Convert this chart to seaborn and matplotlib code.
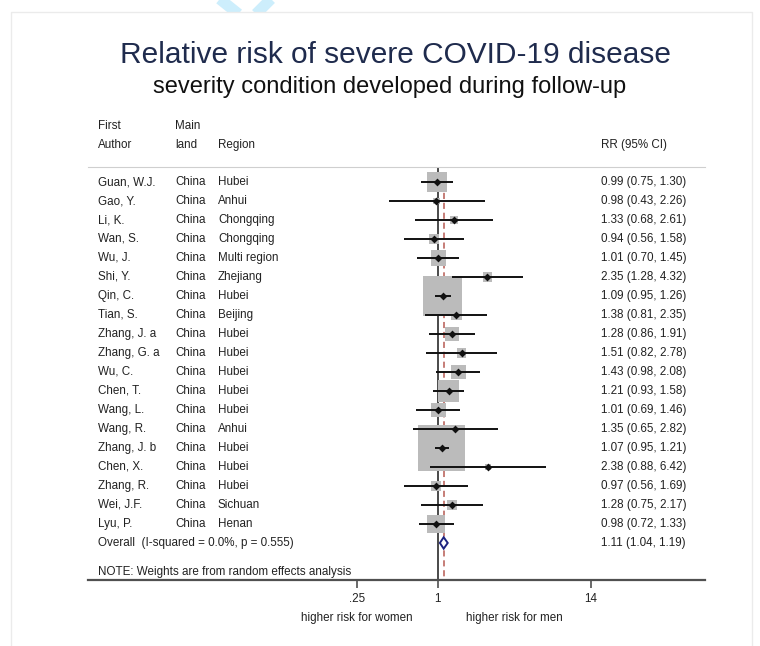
import numpy as np
import pandas as pd
import matplotlib
matplotlib.use("Agg")
import matplotlib.pyplot as plt
import matplotlib.transforms as mtransforms
from matplotlib.patches import Rectangle
from matplotlib.lines import Line2D
from matplotlib.ticker import NullLocator
import seaborn as sns

# ---- study-level data ----
authors = ["Guan, W.J.", "Gao, Y.", "Li, K.", "Wan, S.", "Wu, J.", "Shi, Y.", "Qin, C.",
           "Tian, S.", "Zhang, J. a", "Zhang, G. a", "Wu, C.", "Chen, T.", "Wang, L.",
           "Wang, R.", "Zhang, J. b", "Chen, X.", "Zhang, R.", "Wei, J.F.", "Lyu, P."]
mainland = ["China"] * 19
regions = ["Hubei", "Anhui", "Chongqing", "Chongqing", "Multi region", "Zhejiang", "Hubei",
           "Beijing", "Hubei", "Hubei", "Hubei", "Hubei", "Hubei", "Anhui", "Hubei",
           "Hubei", "Hubei", "Sichuan", "Henan"]
rr = [0.99, 0.98, 1.33, 0.94, 1.01, 2.35, 1.09, 1.38, 1.28, 1.51, 1.43, 1.21, 1.01,
      1.35, 1.07, 2.38, 0.97, 1.28, 0.98]
ci_low = [0.75, 0.43, 0.68, 0.56, 0.70, 1.28, 0.95, 0.81, 0.86, 0.82, 0.98, 0.93, 0.69,
          0.65, 0.95, 0.88, 0.56, 0.75, 0.72]
ci_high = [1.30, 2.26, 2.61, 1.58, 1.45, 4.32, 1.26, 2.35, 1.91, 2.78, 2.08, 1.58, 1.46,
           2.82, 1.21, 6.42, 1.69, 2.17, 1.33]
weights = [6.3, 0.7, 1.0, 1.8, 3.6, 1.3, 23.8, 1.7, 3.0, 1.3, 3.4, 6.8, 3.4,
           0.9, 32.5, 0.5, 1.6, 1.7, 5.0]

# ---- pooled estimate ----
overall_rr, overall_low, overall_high = 1.11, 1.04, 1.19
i_squared = "0.0%"
p_het = "0.555"

# ---- axis ----
xticks = [0.25, 1, 14]
xtick_labels = [".25", "1", "14"]

df = pd.DataFrame({"author": authors, "mainland": mainland, "region": regions,
                   "rr": rr, "lo": ci_low, "hi": ci_high, "weight": weights})
df["row"] = np.arange(len(df))
overall_row = len(df)

sns.set_theme(style="white")
plt.rcParams["font.family"] = ["Liberation Sans", "DejaVu Sans"]

W, H = 760, 646
fig = plt.figure(figsize=(W / 100, H / 100), dpi=100)
fig.patch.set_facecolor("white")


def fx(px):
    return px / W


def fy(py):
    return 1 - py / H


# light cyan "X" mark peeking above the white panel
for xs, ys in [([221 - 1.25 * 20, 221 + 1.25 * 14], [-20, 14]),
               ([270 + 1.0 * 20, 270 - 1.0 * 14], [-20, 14])]:
    fig.add_artist(Line2D([fx(v) for v in xs], [fy(v) for v in ys],
                          transform=fig.transFigure, color="#cdeefc", lw=8,
                          solid_capstyle="butt", zorder=-3))

# white panel with a faint border
fig.add_artist(Rectangle((fx(11), -0.01), fx(752) - fx(11), fy(12) + 0.01,
                         transform=fig.transFigure, facecolor="white",
                         edgecolor="#ebebeb", lw=1.0, zorder=-1))

ax = fig.add_axes([fx(88), fy(580), fx(705) - fx(88), (580 - 167) / H])
ax.set_xscale("log")
ax.set_xlim(0.002446, 99.4)
ax.set_ylim(20.95, -0.79)
ax.set_facecolor("none")

# reference lines: no effect and pooled estimate
ax.vlines(1, -0.79, 20.95, color="#3c3c3c", lw=1.3, zorder=1)
ax.vlines(overall_rr, -0.5, 20.95, color="#b65a52", lw=1.1,
          linestyles=(0, (4, 2.5)), zorder=1)

# weight boxes (area proportional to weight)
wmax = max(weights)
sns.scatterplot(data=df, x="rr", y="row", size="weight", sizes=(0, 34 * wmax),
                size_norm=(0, wmax), marker="s", color="#bbbbbb", linewidth=0,
                legend=False, ax=ax, zorder=2)

# confidence intervals and point estimates
ax.hlines(df["row"], df["lo"], df["hi"], color="#111111", lw=1.4, zorder=3)
sns.scatterplot(data=df, x="rr", y="row", marker="D", s=16, color="#111111",
                linewidth=0, legend=False, ax=ax, zorder=4)

# pooled diamond
ax.fill([overall_low, overall_rr, overall_high, overall_rr],
        [overall_row, overall_row - 0.3, overall_row, overall_row + 0.3],
        facecolor="white", edgecolor="#1d2380", lw=1.4, zorder=4)

# axes styling
for side in ["left", "right"]:
    ax.spines[side].set_visible(False)
ax.spines["bottom"].set_color("#505050")
ax.spines["bottom"].set_linewidth(1.6)
ax.spines["top"].set_color("#cfcfcf")
ax.spines["top"].set_linewidth(0.8)
ax.set_yticks([])
ax.set_xticks(xticks)
ax.set_xticklabels(xtick_labels)
ax.xaxis.set_minor_locator(NullLocator())
ax.tick_params(axis="x", direction="out", length=6, width=1.2, color="#505050",
               labelsize=8.4, labelcolor="#222222", pad=3, bottom=True)
ax.set_xlabel("")
ax.set_ylabel("")
ax.grid(False)

# text columns
tcol = mtransforms.blended_transform_factory(fig.transFigure, ax.transData)
fs = 8.4
tc = "#222222"
x_author, x_main, x_region, x_rr = fx(98), fx(175), fx(218), fx(601)

ax.text(x_author, -2.95, "First", transform=tcol, fontsize=fs, color=tc, va="center")
ax.text(x_author, -1.95, "Author", transform=tcol, fontsize=fs, color=tc, va="center")
ax.text(x_main, -2.95, "Main", transform=tcol, fontsize=fs, color=tc, va="center")
ax.text(x_main, -1.95, "land", transform=tcol, fontsize=fs, color=tc, va="center")
ax.text(x_region, -1.95, "Region", transform=tcol, fontsize=fs, color=tc, va="center")
ax.text(x_rr, -1.95, "RR (95% CI)", transform=tcol, fontsize=fs, color=tc, va="center")

for _, r in df.iterrows():
    y = r["row"]
    ax.text(x_author, y, r["author"], transform=tcol, fontsize=fs, color=tc, va="center")
    ax.text(x_main, y, r["mainland"], transform=tcol, fontsize=fs, color=tc, va="center")
    ax.text(x_region, y, r["region"], transform=tcol, fontsize=fs, color=tc, va="center")
    ax.text(x_rr, y, f"{r['rr']:.2f} ({r['lo']:.2f}, {r['hi']:.2f})", transform=tcol,
            fontsize=fs, color=tc, va="center")

ax.text(x_author, overall_row, f"Overall  (I-squared = {i_squared}, p = {p_het})",
        transform=tcol, fontsize=fs, color=tc, va="center")
ax.text(x_rr, overall_row, f"{overall_rr:.2f} ({overall_low:.2f}, {overall_high:.2f})",
        transform=tcol, fontsize=fs, color=tc, va="center")
ax.text(x_author, 20.53, "NOTE: Weights are from random effects analysis",
        transform=tcol, fontsize=fs, color=tc, va="center")

# direction labels below the axis
tdir = mtransforms.blended_transform_factory(ax.transData, fig.transFigure)
ax.text(0.25, fy(618), "higher risk for women", transform=tdir, fontsize=fs,
        color=tc, ha="center", va="center")
ax.text(np.sqrt(14), fy(618), "higher risk for men", transform=tdir, fontsize=fs,
        color=tc, ha="center", va="center")

# titles
fig.text(fx(395), fy(63), "Relative risk of severe COVID-19 disease",
         ha="center", va="baseline", fontsize=21.5, color="#1f2b4d")
fig.text(fx(390), fy(93), "severity condition developed during follow-up",
         ha="center", va="baseline", fontsize=17, color="#111111")

fig.savefig("out.png", dpi=100, facecolor="white")
